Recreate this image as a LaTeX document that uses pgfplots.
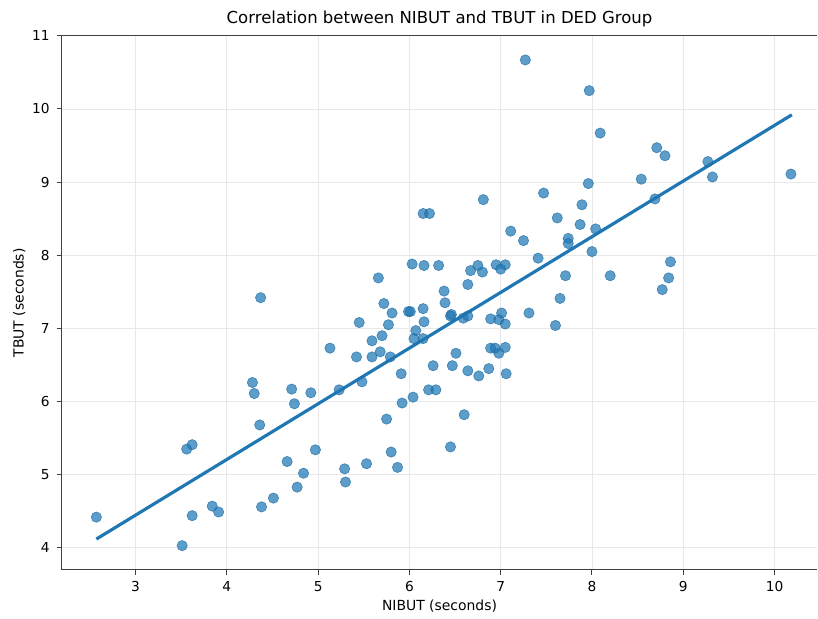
\documentclass[border=0pt]{standalone}
\usepackage{fontspec}
\setmainfont{DejaVu Sans}
\usepackage{pgfplots}
\pgfplotsset{compat=1.18}
\definecolor{mplblue}{HTML}{1F77B4}
\definecolor{spine}{HTML}{404040}

\begin{document}
\begin{tikzpicture}
\begin{axis}[
    scale only axis,
    width=380bp,
    height=268.5bp,
    xmin=2.19, xmax=10.47,
    ymin=3.70, ymax=11.0,
    xtick={3,4,...,10},
    ytick={4,5,...,11},
    axis lines*=left,
    tick align=outside,
    xtick pos=left, ytick pos=left,
    major tick length=2.5bp,
    tick style={spine, line width=0.5pt},
    axis line style={spine, line width=0.6pt},
    grid=major,
    grid style={gray!18, line width=0.4pt},
    /pgf/number format/assume math mode=true,
    ticklabel style={font=\fontsize{6.9bp}{8bp}\selectfont},
    label style={font=\fontsize{7.0bp}{8bp}\selectfont},
    xlabel={NIBUT (seconds)},
    ylabel={TBUT (seconds)},
    xlabel style={yshift=3bp},
    ylabel style={yshift=-3.5bp},
    title={Correlation between NIBUT and TBUT in DED Group},
    title style={font=\fontsize{8.3bp}{9bp}\selectfont, yshift=-5bp},
    clip=false,
]
% keep a little white space left of the y label and above the title
\path (rel axis cs:0,0) ++(-31bp,0bp);
\path (rel axis cs:0.5,1) ++(0bp,18bp);
\draw[spine, line width=0.6pt] (rel axis cs:0,1) -- (rel axis cs:1,1);
\addplot[only marks, mark=*, mark size=2.6bp,
    mark options={fill=mplblue, draw=mplblue!90!black, fill opacity=0.72, draw opacity=0.72, line width=0.3pt}]
coordinates {
(7.27,10.67) (6.81,8.76) (6.15,8.57) (6.22,8.57) (7.47,8.85) (7.62,8.51)
(7.11,8.33) (7.25,8.20) (7.41,7.96) (6.03,7.88) (6.16,7.86) (6.32,7.86)
(5.66,7.69) (6.67,7.79) (6.75,7.86) (6.80,7.77) (6.95,7.87) (7.00,7.81)
(7.05,7.87) (6.38,7.51) (6.64,7.60)
(7.97,10.25) (8.09,9.67) (8.71,9.47) (8.80,9.36) (9.27,9.28) (9.32,9.07)
(10.18,9.11) (8.54,9.04) (8.69,8.77) (7.96,8.98) (7.89,8.69) (7.87,8.42)
(8.04,8.36) (7.74,8.23) (7.74,8.16) (8.00,8.05) (8.86,7.91) (7.71,7.72)
(8.20,7.72) (8.84,7.69) (8.77,7.53) (7.65,7.41)
(4.37,7.42) (4.28,6.26) (4.30,6.11) (4.71,6.17) (4.92,6.12) (4.74,5.97)
(4.36,5.68) (3.56,5.35) (3.62,5.41) (4.97,5.34) (4.66,5.18) (4.84,5.02)
(4.77,4.83) (3.84,4.57) (3.91,4.49) (4.51,4.68) (4.38,4.56) (3.62,4.44)
(2.57,4.42) (3.51,4.03)
(5.72,7.34) (6.39,7.35) (5.81,7.21) (5.99,7.23) (6.01,7.23) (6.15,7.27)
(5.45,7.08) (5.77,7.05) (6.16,7.09) (6.45,7.17) (6.46,7.19) (6.59,7.14)
(6.64,7.17) (6.89,7.13) (6.98,7.12) (7.01,7.21) (7.05,7.06) (7.31,7.21)
(7.60,7.04) (5.70,6.90) (5.59,6.83) (6.07,6.97) (6.05,6.86) (6.15,6.86)
(5.13,6.73) (5.42,6.61) (5.59,6.61) (5.68,6.68) (5.79,6.61) (6.26,6.49)
(6.47,6.49) (6.51,6.66) (6.64,6.42) (6.76,6.35) (6.87,6.45) (6.89,6.73)
(6.94,6.73) (6.98,6.66) (7.05,6.74) (7.06,6.38) (5.23,6.16) (5.48,6.27)
(5.91,6.38) (5.92,5.98) (6.04,6.06) (6.21,6.16) (6.29,6.16) (6.60,5.82)
(5.75,5.76) (6.45,5.38) (5.80,5.31) (5.29,5.08) (5.30,4.90) (5.53,5.15)
(5.87,5.10)
};
\addplot[mplblue, line width=1.6pt] coordinates {(2.57,4.12) (10.19,9.92)};
\end{axis}
\end{tikzpicture}
\end{document}
